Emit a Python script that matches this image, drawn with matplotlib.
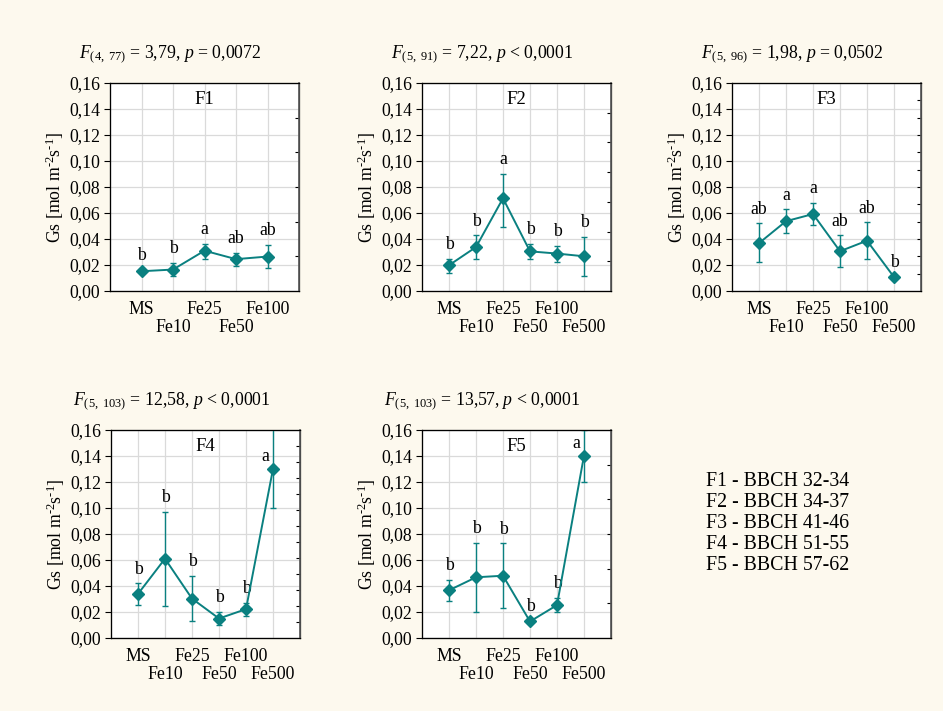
import matplotlib
matplotlib.use("Agg")
import matplotlib.pyplot as plt
import numpy as np

# ---------------- data ----------------
panel_names = ["F1", "F2", "F3", "F4", "F5"]
cats_f1 = ["MS", "Fe10", "Fe25", "Fe50", "Fe100"]
cats_all = ["MS", "Fe10", "Fe25", "Fe50", "Fe100", "Fe500"]

f1_mean = [0.0152, 0.0165, 0.0310, 0.0245, 0.0265]
f1_lo = [0.0150, 0.0115, 0.0245, 0.0190, 0.0175]
f1_hi = [0.0160, 0.0215, 0.0360, 0.0295, 0.0355]
f1_let = ["b", "b", "a", "ab", "ab"]

f2_mean = [0.0198, 0.0338, 0.0713, 0.0305, 0.0288, 0.0267]
f2_lo = [0.0142, 0.0245, 0.0495, 0.0245, 0.0222, 0.0115]
f2_hi = [0.0250, 0.0428, 0.0900, 0.0365, 0.0350, 0.0418]
f2_let = ["b", "b", "a", "b", "b", "b"]

f3_mean = [0.0368, 0.0537, 0.0592, 0.0306, 0.0387, 0.0107]
f3_lo = [0.0220, 0.0448, 0.0505, 0.0188, 0.0246, 0.0105]
f3_hi = [0.0520, 0.0628, 0.0680, 0.0428, 0.0528, 0.0110]
f3_let = ["ab", "a", "a", "ab", "ab", "b"]

f4_mean = [0.0339, 0.0610, 0.0303, 0.0150, 0.0222, 0.1300]
f4_lo = [0.0255, 0.0250, 0.0132, 0.0102, 0.0168, 0.1000]
f4_hi = [0.0420, 0.0970, 0.0480, 0.0200, 0.0272, 0.1650]
f4_let = ["b", "b", "b", "b", "b", "a"]

f5_mean = [0.0367, 0.0467, 0.0479, 0.0127, 0.0253, 0.1403]
f5_lo = [0.0288, 0.0202, 0.0234, 0.0125, 0.0200, 0.1203]
f5_hi = [0.0448, 0.0734, 0.0727, 0.0130, 0.0308, 0.1600]
f5_let = ["b", "b", "b", "b", "b", "a"]

stats_titles = [
    r"$F_{(4,\ 77)}$ = 3,79, $p$ = 0,0072",
    r"$F_{(5,\ 91)}$ = 7,22, $p$ < 0,0001",
    r"$F_{(5,\ 96)}$ = 1,98, $p$ = 0,0502",
    r"$F_{(5,\ 103)}$ = 12,58, $p$ < 0,0001",
    r"$F_{(5,\ 103)}$ = 13,57, $p$ < 0,0001",
]
legend_lines = ["F1 - BBCH 32-34", "F2 - BBCH 34-37", "F3 - BBCH 41-46",
                "F4 - BBCH 51-55", "F5 - BBCH 57-62"]
ytick_vals = [0.00, 0.02, 0.04, 0.06, 0.08, 0.10, 0.12, 0.14, 0.16]
right_divs = [6, 7, 12, 13, 6]

# ---------------- style ----------------
plt.rcParams["font.family"] = ["Liberation Serif", "DejaVu Serif"]
plt.rcParams["mathtext.fontset"] = "custom"
plt.rcParams["mathtext.rm"] = "Liberation Serif"
plt.rcParams["mathtext.it"] = "Liberation Serif:italic"
plt.rcParams["mathtext.bf"] = "Liberation Serif:bold"

BG = "#fdf9ee"
TEAL = "#0a8080"
GRID = "#dadada"
FS = 12.8

fig = plt.figure(figsize=(9.43, 7.11), dpi=100, facecolor=BG)

W, H = 943, 711
boxes = [(110, 83), (422, 83), (732, 83), (111, 430), (422, 430)]
aw, ah = 189, 208

panels = [
    (cats_f1, f1_mean, f1_lo, f1_hi, f1_let),
    (cats_all, f2_mean, f2_lo, f2_hi, f2_let),
    (cats_all, f3_mean, f3_lo, f3_hi, f3_let),
    (cats_all, f4_mean, f4_lo, f4_hi, f4_let),
    (cats_all, f5_mean, f5_lo, f5_hi, f5_let),
]

for i, (cats, mean, lo, hi, let) in enumerate(panels):
    x0, y0 = boxes[i]
    ax = fig.add_axes([x0 / W, 1 - (y0 + ah) / H, aw / W, ah / H])
    ax.set_facecolor("white")
    n = len(cats)
    x = np.arange(1, n + 1)
    mean = np.array(mean)
    lo = np.array(lo)
    hi = np.array(hi)
    ax.errorbar(x, mean, yerr=[mean - lo, hi - mean], color=TEAL, lw=1.4,
                marker="D", ms=6.5, mec=TEAL, mfc=TEAL, ecolor=TEAL,
                elinewidth=1.0, capsize=2.2, capthick=1.0, zorder=3)
    ax.set_xlim(0, n + 1)
    ax.set_ylim(0, 0.16)
    ax.set_yticks(ytick_vals)
    ax.set_yticklabels([f"{v:.2f}".replace(".", ",") for v in ytick_vals], fontsize=FS)
    ax.set_xticks(x)
    ax.set_xticklabels(cats, fontsize=FS)
    ax.tick_params(axis="x", length=0, pad=7)
    for k, t in enumerate(ax.xaxis.get_major_ticks()):
        if k % 2 == 1:
            t.set_pad(20)
    ax.tick_params(axis="y", length=4, width=0.8, direction="out", pad=3)
    ax.grid(True, color=GRID, lw=0.9, zorder=0)
    ax.set_axisbelow(True)
    for s in ax.spines.values():
        s.set_color("#222222")
        s.set_linewidth(0.9)
    ax.set_ylabel(r"Gs [mol m$^{\text{-2}}$s$^{\text{-1}}$]", fontsize=FS)
    ax.yaxis.set_label_coords(-0.232, 0.5)
    ax.text(0.5, 0.92, panel_names[i], transform=ax.transAxes, ha="center",
            va="center", fontsize=13.5)
    ax.text(0.32, 1.14, stats_titles[i], transform=ax.transAxes, ha="center",
            va="center", fontsize=FS)
    for xi, m, h, l in zip(x, mean, hi, let):
        if h + 0.004 > 0.15:
            ax.text(xi - 0.27, m + 0.003, l, ha="center", va="bottom", fontsize=FS)
        else:
            ax.text(xi, h + 0.0045, l, ha="center", va="bottom", fontsize=FS)
    ax2 = ax.twinx()
    nd = right_divs[i]
    ax2.set_ylim(0, nd)
    ax2.set_yticks(np.arange(1, nd))
    ax2.tick_params(axis="y", direction="in", length=3, width=0.8, labelright=False)
    ax2.spines["right"].set_color("#555555")
    ax2.spines["right"].set_linewidth(1.2)

fig.text(706 / W, 1 - 472 / H, "\n".join(legend_lines), ha="left", va="top",
         fontsize=14.3, linespacing=1.15)

fig.savefig("out.png", dpi=100, facecolor=BG)
